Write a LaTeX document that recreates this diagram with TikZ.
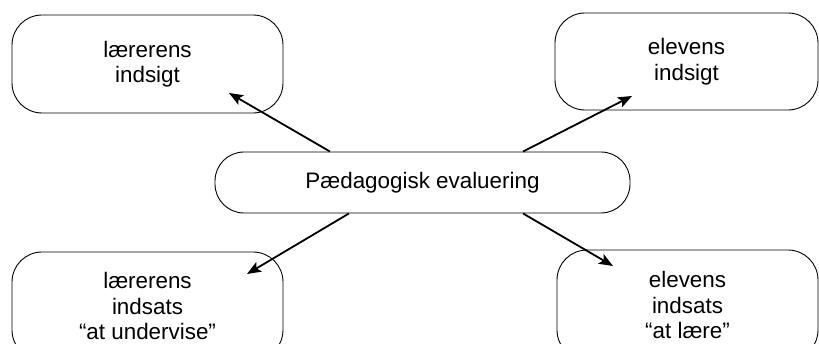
\documentclass[tikz,border=0pt]{standalone}
\usepackage{fontspec}
\setmainfont{Liberation Sans}
\usetikzlibrary{arrows.meta,calc}

\tikzset{
  box/.style={draw=black, line width=0.9pt, rounded corners=30pt,
    align=center, inner sep=0pt, font=\fontsize{22.4}{25.5}\selectfont},
  hub/.style={box, rounded corners=29pt},
  link/.style={line width=1.8pt,
    -{Stealth[length=14pt,width=11pt,inset=3pt]}}
}

\begin{document}
\begin{tikzpicture}[x=1pt,y=-1pt]
  \clip (0,0) rectangle (819,344);
  \fill[white] (0,0) rectangle (819,344);

  % central concept
  \node[hub, minimum width=415pt, minimum height=61pt] (c) at (422.5,182.5)
    {Pædagogisk evaluering};

  % four surrounding aspects
  \node[box, minimum width=271pt, minimum height=98pt] (tl) at (147.5,64)
    {lærerens\\indsigt};
  \node[box, minimum width=263pt, minimum height=97pt] (tr) at (686.5,61.5)
    {elevens\\indsigt};
  \node[box, minimum width=271pt, minimum height=108pt] (bl) at (147.5,306)
    {lærerens\\indsats\\“at undervise”};
  \node[box, minimum width=261pt, minimum height=110pt] (br) at (687.5,305)
    {elevens\\indsats\\“at lære”};

  % arrow tips reach into the boxes
  \coordinate (tl-tip) at ($(tl.center)+(81.5,29)$);
  \coordinate (tr-tip) at ($(tr.center)+(-54.5,34.5)$);
  \coordinate (bl-tip) at ($(bl.center)+(99.5,-32)$);
  \coordinate (br-tip) at ($(br.center)+(-74.5,-39)$);

  \draw[link] ([xshift=-92.5pt]c.north) -- (tl-tip);
  \draw[link] ([xshift=100.5pt]c.north) -- (tr-tip);
  \draw[link] ([xshift=-73.5pt]c.south) -- (bl-tip);
  \draw[link] ([xshift=100.5pt]c.south) -- (br-tip);
\end{tikzpicture}
\end{document}
